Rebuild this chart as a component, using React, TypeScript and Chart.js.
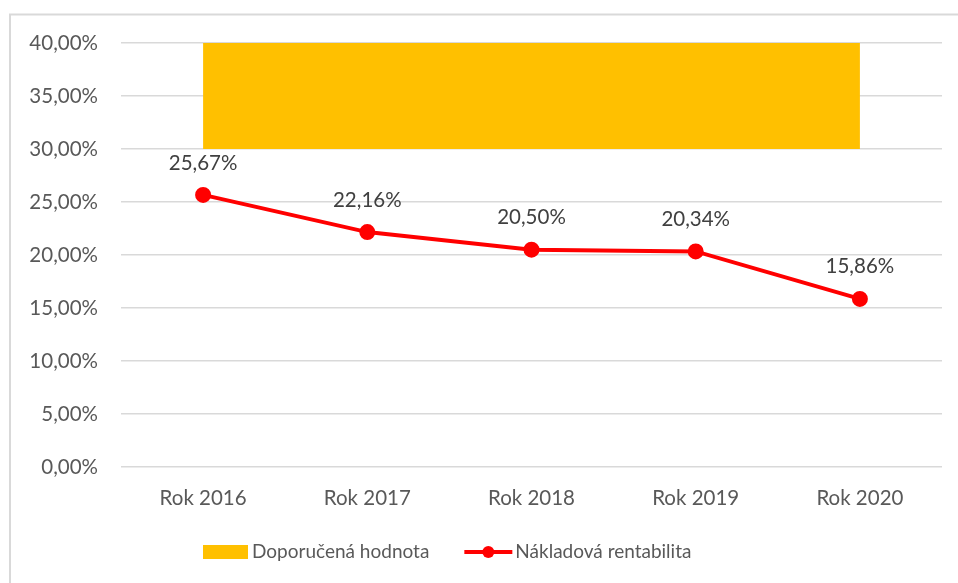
import React, { useEffect, useRef } from "react";
import { Chart, registerables } from "chart.js";

Chart.register(...registerables);

const categories = ["Rok 2016", "Rok 2017", "Rok 2018", "Rok 2019", "Rok 2020"];
const recommendedTop = [40, 40, 40, 40, 40];
const recommendedBottom = 30;
const profitability = [25.67, 22.16, 20.5, 20.34, 15.86];
const seriesNames = ["Doporučená hodnota", "Nákladová rentabilita"];
const yTicks = [0, 5, 10, 15, 20, 25, 30, 35, 40];

const FONT = "Lato, 'Noto Sans', sans-serif";
const FS = 20.5;
const LEGEND_FS = 19;
const fmt = (v: number) => v.toFixed(2).replace(".", ",") + "%";

export default function App() {
  const ref = useRef<HTMLCanvasElement>(null);
  useEffect(() => {
    if (!ref.current) return;
    const framePlugin = {
      id: "frame",
      beforeDraw(chart: any) {
        const ctx = chart.ctx;
        ctx.save();
        ctx.fillStyle = "#ffffff";
        ctx.fillRect(0, 0, chart.width, chart.height);
        ctx.strokeStyle = "#d9d9d9";
        ctx.lineWidth = 2;
        ctx.beginPath();
        ctx.moveTo(10, chart.height + 5);
        ctx.lineTo(10, 14.5);
        ctx.lineTo(chart.width + 5, 14.5);
        ctx.stroke();
        ctx.restore();
      },
    };
    const labelPlugin = {
      id: "valueLabels",
      afterDatasetsDraw(chart: any) {
        const ctx = chart.ctx;
        const meta = chart.getDatasetMeta(1);
        ctx.save();
        ctx.font = `${FS}px ${FONT}`;
        ctx.fillStyle = "#404040";
        ctx.textAlign = "center";
        ctx.textBaseline = "middle";
        meta.data.forEach((pt: any, i: number) => {
          ctx.fillText(fmt(profitability[i]), pt.x, pt.y - 32);
        });
        ctx.restore();
      },
    };
    const legendPlugin = {
      id: "customLegend",
      afterDraw(chart: any) {
        const ctx = chart.ctx;
        ctx.save();
        ctx.font = `${LEGEND_FS}px ${FONT}`;
        ctx.textBaseline = "middle";
        ctx.textAlign = "left";
        const y = 552;
        const w0 = ctx.measureText(seriesNames[0]).width;
        let x = 203;
        ctx.fillStyle = "#FFC000";
        ctx.fillRect(x, y - 7, 45, 14);
        x += 49;
        ctx.fillStyle = "#595959";
        ctx.fillText(seriesNames[0], x, y);
        x += w0 + 35;
        ctx.strokeStyle = "#FF0000";
        ctx.lineWidth = 4;
        ctx.beginPath();
        ctx.moveTo(x, y);
        ctx.lineTo(x + 48, y);
        ctx.stroke();
        ctx.fillStyle = "#FF0000";
        ctx.beginPath();
        ctx.arc(x + 24, y, 6, 0, Math.PI * 2);
        ctx.fill();
        x += 51;
        ctx.fillStyle = "#595959";
        ctx.fillText(seriesNames[1], x, y);
        ctx.restore();
      },
    };
    const chart = new Chart(ref.current, {
      type: "line",
      data: {
        labels: categories,
        datasets: [
          {
            label: seriesNames[0],
            data: recommendedTop,
            backgroundColor: "#FFC000",
            borderWidth: 0,
            borderColor: "#FFC000",
            pointRadius: 0,
            fill: { value: recommendedBottom },
            order: 2,
          },
          {
            label: seriesNames[1],
            data: profitability,
            borderColor: "#FF0000",
            backgroundColor: "#FF0000",
            borderWidth: 4,
            pointRadius: 6,
            pointBackgroundColor: "#FF0000",
            pointBorderColor: "#FF0000",
            fill: false,
            order: 1,
          },
        ],
      },
      options: {
        animation: false,
        responsive: false,
        maintainAspectRatio: false,
        layout: { padding: { top: 43, right: 16, left: 0, bottom: 0 } },
        plugins: {
          legend: { display: false },
          tooltip: { enabled: false },
        },
        scales: {
          x: {
            offset: true,
            grid: { display: false, drawTicks: false },
            border: { display: false },
            ticks: {
              color: "#595959",
              font: { family: FONT, size: FS },
              padding: 19,
              maxRotation: 0,
            },
            afterFit(scale: any) {
              scale.height = 583 - 467;
            },
          },
          y: {
            min: 0,
            max: 40,
            afterBuildTicks(scale: any) {
              scale.ticks = yTicks.map((v) => ({ value: v }));
            },
            grid: { color: "#d9d9d9", lineWidth: 1.5, drawTicks: false },
            border: { display: false },
            ticks: {
              color: "#595959",
              font: { family: FONT, size: FS },
              padding: 23,
              callback: (v: any) => fmt(Number(v)),
            },
            afterFit(scale: any) {
              scale.width = 121;
            },
          },
        },
      },
      plugins: [framePlugin, labelPlugin, legendPlugin],
    });
    return () => chart.destroy();
  }, []);
  return (
    <div style={{ position: "fixed", left: 0, top: 0, width: 958, height: 583 }}>
      <canvas ref={ref} width={958} height={583} style={{ width: 958, height: 583 }} />
    </div>
  );
}
